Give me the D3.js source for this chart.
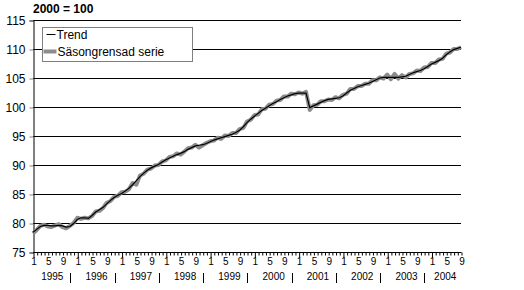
<!DOCTYPE html>
<html>
<head>
<meta charset="utf-8">
<script src="https://cdn.jsdelivr.net/npm/d3@7"></script>
<style>
body { margin: 0; background: #fff; }
text { font-family: Arial, "Liberation Sans", sans-serif; }
</style>
</head>
<body>
<div id="chart"></div>
<script>
// index 2000 = 100, monthly Jan 1995 - Sep 2004
var years = ["1995","1996","1997","1998","1999","2000","2001","2002","2003","2004"];
var monthLabels = ["1","5","9"];
var yTicks = [75, 80, 85, 90, 95, 100, 105, 110, 115];

var trend = [
  78.4, 78.9, 79.4, 79.6, 79.6, 79.5, 79.5, 79.6, 79.5, 79.3, 79.4, 79.9,
  80.6, 80.9, 80.9, 80.8, 81.3, 81.9, 82.3, 82.7, 83.3, 83.9, 84.4, 84.8,
  85.1, 85.5, 86.0, 86.6, 87.3, 88.0, 88.6, 89.1, 89.5, 89.8, 90.1, 90.5,
  90.9, 91.2, 91.5, 91.8, 92.0, 92.3, 92.7, 93.0, 93.3, 93.4, 93.5, 93.7,
  94.0, 94.3, 94.5, 94.7, 94.9, 95.1, 95.3, 95.6, 96.0, 96.6, 97.3, 97.9,
  98.4, 98.9, 99.4, 99.8, 100.2, 100.6, 100.9, 101.3, 101.6, 101.9, 102.1, 102.3,
  102.4, 102.4, 102.4, 99.9, 100.2, 100.5, 100.8, 101.1, 101.3, 101.4, 101.5, 101.6,
  101.9, 102.4, 102.9, 103.2, 103.5, 103.7, 103.9, 104.1, 104.4, 104.7, 105.0, 105.1,
  105.1, 105.1, 105.1, 105.1, 105.2, 105.3, 105.6, 105.9, 106.1, 106.3, 106.6, 107.0,
  107.4, 107.7, 108.0, 108.4, 109.0, 109.5, 109.9, 110.1, 110.3
];

var seasonal = [
  78.2, 78.8, 79.5, 79.7, 79.4, 79.3, 79.6, 79.8, 79.3, 79.1, 79.5, 80.0,
  80.9, 80.7, 80.9, 80.8, 81.2, 82.0, 82.1, 82.6, 83.5, 83.8, 84.5, 84.7,
  85.3, 85.4, 85.8, 86.9, 86.6, 88.2, 88.5, 89.2, 89.4, 89.9, 90.0, 90.6,
  90.8, 91.4, 91.5, 92.0, 91.8, 92.3, 92.9, 93.0, 93.5, 93.0, 93.4, 93.8,
  94.1, 94.2, 94.7, 94.5, 95.1, 95.0, 95.5, 95.5, 96.2, 96.4, 97.5, 97.8,
  98.6, 98.7, 99.6, 99.7, 100.4, 100.5, 101.1, 101.2, 101.8, 101.8, 102.3, 102.2,
  102.5, 102.3, 102.6, 99.5, 100.3, 100.4, 101.0, 101.0, 101.3, 101.2, 101.7, 101.5,
  102.1, 102.3, 103.1, 103.1, 103.6, 103.6, 104.0, 104.0, 104.6, 104.6, 105.1, 104.9,
  105.6, 104.8, 105.7, 104.9, 105.5, 105.1, 105.7, 105.8, 106.3, 106.2, 106.8, 106.9,
  107.6, 107.6, 108.2, 108.3, 109.2, 109.4, 110.0, 110.0, 110.3
];

var W = 524, H = 290;
var plotLeft = 33, plotRight = 461, plotTop = 20, plotBottom = 252;

var svg = d3.select("#chart").append("svg")
  .attr("width", W).attr("height", H);

var x = d3.scaleLinear().domain([0, trend.length - 1]).range([plotLeft, plotRight]);
var y = d3.scaleLinear().domain([75, 115]).range([plotBottom, plotTop]);

// gridlines
svg.append("g").selectAll("line")
  .data(yTicks.filter(function(d){ return d > 75; }))
  .enter().append("line")
  .attr("x1", plotLeft).attr("x2", plotRight)
  .attr("y1", function(d){ return Math.round(y(d)) + 0.5; })
  .attr("y2", function(d){ return Math.round(y(d)) + 0.5; })
  .attr("stroke", "#000").attr("stroke-width", 1);

// y axis
var yAxis = svg.append("g")
  .attr("transform", "translate(" + (plotLeft + 0.5) + ",0.5)")
  .call(d3.axisLeft(y).tickValues(yTicks).tickSize(4).tickPadding(4));
yAxis.select(".domain").attr("stroke", "#000");
yAxis.selectAll(".tick line").attr("stroke", "#808080");
yAxis.selectAll("text").attr("font-size", "12px").attr("fill", "#000")
  .style("font-family", "Arial, 'Liberation Sans', sans-serif");

// x axis with a tick every month
var xAxis = svg.append("g")
  .attr("transform", "translate(0.5," + (plotBottom + 0.5) + ")")
  .call(d3.axisBottom(x)
    .tickValues(d3.range(trend.length))
    .tickSize(3)
    .tickPadding(2)
    .tickFormat(function(i){
      var m = String(i % 12 + 1);
      return monthLabels.indexOf(m) >= 0 ? m : "";
    }));
xAxis.select(".domain").attr("d", "M" + plotLeft + ",0H" + plotRight).attr("stroke", "#000");
xAxis.selectAll(".tick line").attr("stroke", "#000");
xAxis.selectAll(".tick").filter(function(i){ return i % 12 === 0; })
  .select("line").attr("y2", 5);
xAxis.selectAll("text").attr("font-size", "10px").attr("fill", "#000")
  .style("font-family", "Arial, 'Liberation Sans', sans-serif");

// year labels and separators
var yearG = svg.append("g");
years.forEach(function(yr, k){
  var first = k * 12, last = Math.min(k * 12 + 11, trend.length - 1);
  yearG.append("text")
    .attr("x", x((first + last) / 2) - 1)
    .attr("y", 280)
    .attr("text-anchor", "middle")
    .attr("font-size", "10px")
    .text(yr);
  if (k > 0) {
    yearG.append("line")
      .attr("x1", Math.round(x(first) - 7) + 0.5).attr("x2", Math.round(x(first) - 7) + 0.5)
      .attr("y1", 273).attr("y2", 283)
      .attr("stroke", "#000").attr("stroke-width", 1);
  }
});

// series
var line = d3.line()
  .x(function(d, i){ return x(i); })
  .y(function(d){ return y(d); });

svg.append("path").datum(seasonal)
  .attr("d", line)
  .attr("fill", "none")
  .attr("stroke", "#8c8c8c")
  .attr("stroke-width", 4)
  .attr("stroke-linejoin", "round");

svg.append("path").datum(trend)
  .attr("d", line)
  .attr("fill", "none")
  .attr("stroke", "#000")
  .attr("stroke-width", 1.2);

// title
svg.append("text")
  .attr("x", 33).attr("y", 13)
  .attr("font-size", "12px").attr("font-weight", "bold")
  .text("2000 = 100");

// legend
var leg = svg.append("g").attr("transform", "translate(42.5,27.5)");
leg.append("rect").attr("width", 150).attr("height", 34)
  .attr("fill", "#fff").attr("stroke", "#808080");
leg.append("line").attr("x1", 4).attr("x2", 13).attr("y1", 7).attr("y2", 7)
  .attr("stroke", "#000").attr("stroke-width", 1);
leg.append("text").attr("x", 14).attr("y", 11.5).attr("font-size", "12px").text("Trend");
leg.append("line").attr("x1", 1).attr("x2", 14).attr("y1", 24).attr("y2", 24)
  .attr("stroke", "#8c8c8c").attr("stroke-width", 4);
leg.append("text").attr("x", 15).attr("y", 28.5).attr("font-size", "12px").text("Säsongrensad serie");
</script>
</body>
</html>
